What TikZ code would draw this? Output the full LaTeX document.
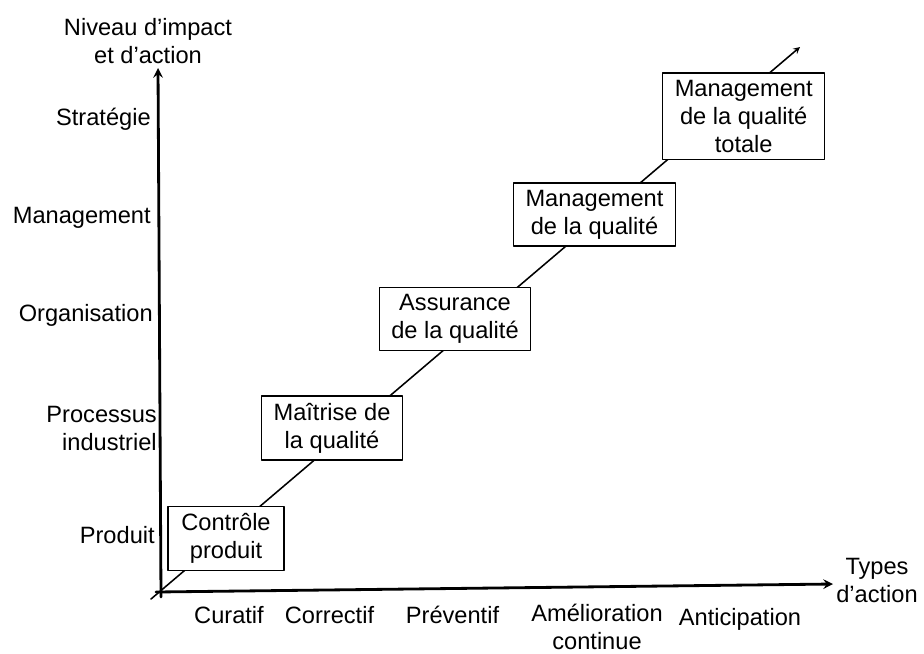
\documentclass[tikz,border=0pt]{standalone}
\usepackage{fontspec}
\setmainfont{Liberation Sans}
\begin{document}
\begin{tikzpicture}[x=0.025cm,y=-0.025cm,line cap=round,line join=round,>=stealth,
  font=\fontsize{16.8}{19.9}\selectfont,
  etape/.style={draw,fill=white,line width=0.9pt,align=center,inner xsep=8.5pt,inner ysep=5pt},
  niveau/.style={anchor=base east,inner sep=0pt},
  typeact/.style={anchor=base,inner sep=0pt}]
\useasboundingbox (0,0) rectangle (924,653);
\coordinate (d0) at (151,599);
\coordinate (dtip) at (800,47);
\coordinate (y0) at (161,597);
\coordinate (ytip) at (158,68);
\coordinate (x0) at (156,592);
\coordinate (xtip) at (833,584);
\draw[->,line width=1.1pt] (d0)--(dtip);
\draw[->,line width=2pt] (y0)--(ytip);
\draw[->,line width=2pt] (x0)--(xtip);
\node[align=center,inner sep=0pt] (axey) at (148,40.7) {Niveau d’impact\\et d’action};
\node[align=center,inner sep=0pt] (axex) at (877,580) {Types\\d’action};
\node[niveau] (strat) at (151,125) {Stratégie};
\node[niveau] (manag) at (151,223) {Management};
\node[niveau] (orga) at (153,321.7) {Organisation};
\node[align=right,anchor=east,inner sep=0pt] (proc) at (157,428) {Processus\\industriel};
\node[niveau] (prod) at (155,543) {Produit};
\node[typeact] (cur) at (229,623) {Curatif};
\node[typeact] (corr) at (329.5,623) {Correctif};
\node[typeact] (prev) at (452.5,623) {Préventif};
\node[align=center,inner sep=0pt] (amel) at (597,627) {Amélioration\\continue};
\node[typeact] (antic) at (740,625) {Anticipation};
\node[etape,minimum width=116*0.7113pt] (ctrl) at (226,538.5) {Contrôle\\produit};
\node[etape] (maitr) at (332,428) {Maîtrise de\\la qualité};
\node[etape] (assur) at (455,319) {Assurance\\de la qualité};
\node[etape] (mq) at (594.5,214.5) {Management\\de la qualité};
\node[etape] (mqt) at (743.7,116.3) {Management\\de la qualité\\totale};
\end{tikzpicture}
\end{document}
